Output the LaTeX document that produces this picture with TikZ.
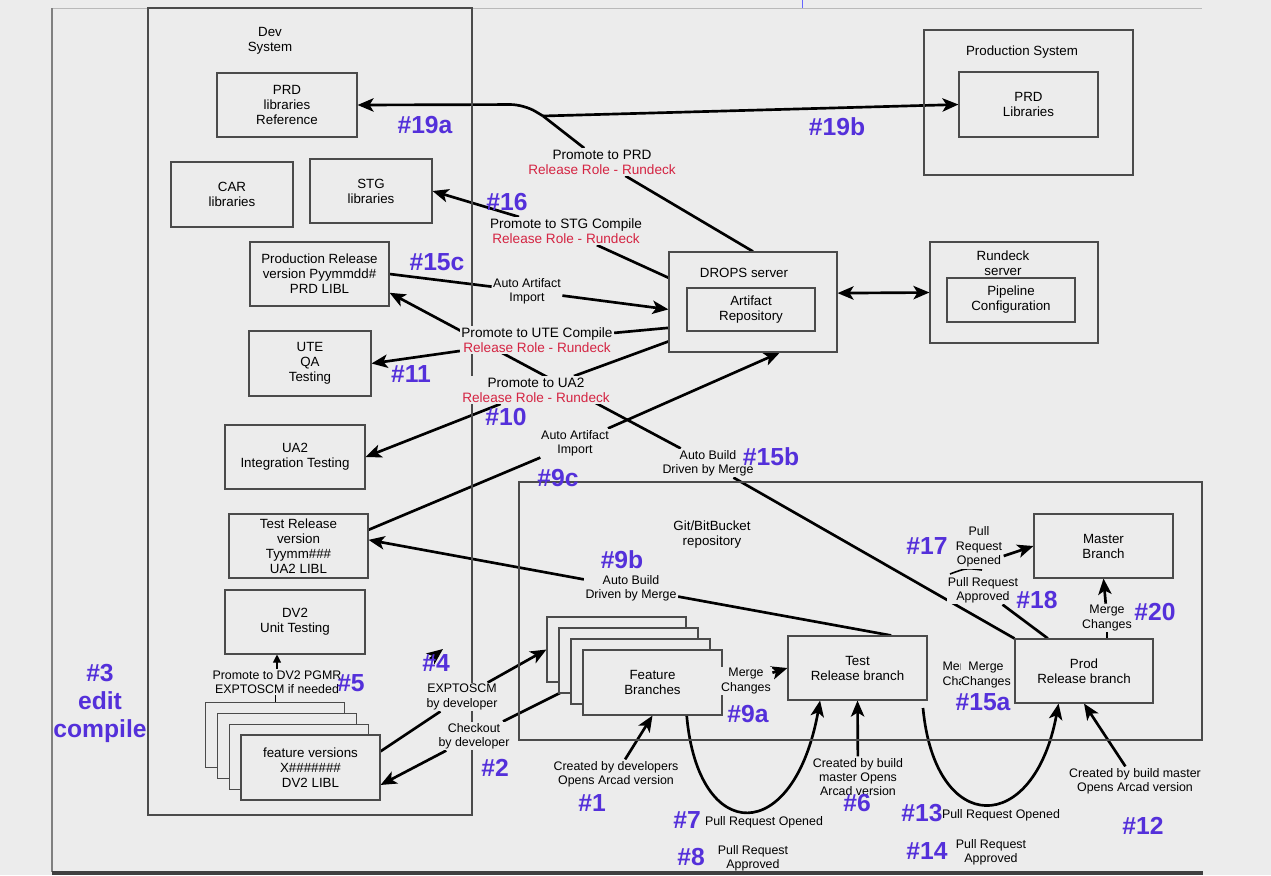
\documentclass[tikz,border=0pt]{standalone}
\usepackage{fontspec}
\setmainfont{Liberation Sans}
\usetikzlibrary{arrows.meta,backgrounds}

\definecolor{bgcol}{RGB}{236,236,236}
\definecolor{boxgray}{RGB}{75,75,75}
\definecolor{numpurple}{RGB}{84,48,218}
\definecolor{rundred}{RGB}{212,36,66}
\newcommand{\rolered}[1]{\textcolor{rundred}{#1}}

\tikzset{
  box/.style={draw=boxgray, line width=0.8pt, inner sep=0pt, align=center, font=\fontsize{10}{11.25}\selectfont},
  boxsize/.style 2 args={minimum width=#1*0.75pt, minimum height=#2*0.75pt},
  stackbox/.style={box, fill=bgcol},
  lbl/.style={fill=bgcol, inner sep=1pt, align=center, font=\fontsize{10.2}{11.25}\selectfont},
  sml/.style={lbl, font=\fontsize{9.3}{10.8}\selectfont},
  num/.style={text=numpurple, inner sep=0pt, align=center, font=\fontsize{18.5}{21}\selectfont\bfseries},
  link/.style={line width=2pt},
  arr/.style={link, -{Stealth[length=12pt,width=10pt,inset=3pt]}},
  dblarr/.style={link, {Stealth[length=12pt,width=10pt,inset=3pt]}-{Stealth[length=12pt,width=10pt,inset=3pt]}},
  tinyarr/.style={line width=0.8pt, -{Triangle[length=6pt,width=6pt]}},
}

\begin{document}
\begin{tikzpicture}[x=0.75pt,y=0.75pt,yscale=-1,xscale=1]
\begin{scope}[on background layer]
\fill[bgcol] (0,0) rectangle (1271,875);
\end{scope}
\useasboundingbox (0,0) rectangle (1271,875);

% frame of the page
\draw[gray!55, line width=0.6pt] (52,8) -- (1202,8);
\draw[gray, line width=0.8pt] (52,8) -- (52,872);
\draw[blue!60, line width=0.5pt] (802,0) -- (802,8);

%Shape: Dev System
\node[box, boxsize={324}{807}] (devsys) at (310,411.5) {};
\node[box, draw=none] (devlbl) at (270,41) {Dev\\System};
\node[box, boxsize={140}{64}] (prdref) at (287,105) {PRD\\libraries\\Reference};
\node[box, boxsize={122}{65}] (carlib) at (232,194.5) {CAR\\libraries};
\node[box, boxsize={122}{64}] (stglib) at (371,191) {STG\\libraries};
\node[box, boxsize={139}{64}] (prodrel) at (319.5,274) {Production Release\\version Pyymmdd\#\\PRD LIBL};
\node[box, boxsize={122}{65}] (ute) at (310,363.5) {UTE\\QA\\Testing};
\node[box, boxsize={140}{64}] (ua2) at (295,457) {UA2\\Integration Testing};
\node[box, boxsize={139}{64}] (testrel) at (298.5,546) {Test Release\\version\\Tyymm\#\#\#\\UA2 LIBL};
\node[box, boxsize={140}{64}] (dv2) at (295,622) {DV2\\Unit Testing};
\foreach \i in {3,2,1}
  \node[stackbox, boxsize={139}{65}] (featver\i) at ({310.5-11.7*\i},{767.5-10.7*\i}) {};
\node[stackbox, boxsize={139}{65}] (featver) at (310.5,767.5) {feature versions\\X\#\#\#\#\#\#\#\\DV2 LIBL};

%Shape: Git repository
\node[box, boxsize={683}{258}] (gitrepo) at (860.5,611) {};
\node[box, draw=none] (gitlbl) at (712,535) {Git/BitBucket\\repository};
\foreach \i in {3,2,1}
  \node[stackbox, boxsize={139}{65}] (featbr\i) at ({652.5-12*\i},{682.5-11*\i}) {};
\node[stackbox, boxsize={139}{65}] (featbr) at (652.5,682.5) {Feature\\Branches};
\node[box, boxsize={139}{64}] (testbr) at (857.5,668) {Test\\Release branch};
\node[box, boxsize={138}{64}] (prodbr) at (1084,671) {Prod\\Release branch};
\node[box, boxsize={139}{64}] (master) at (1103.5,546) {Master\\Branch};

%Shape: servers
\node[box, boxsize={168}{100}] (drops) at (753,302) {};
\node[box, draw=none] (dropslbl) at (744,273) {DROPS server};
\node[box, boxsize={128}{43}] (artrepo) at (751,309.5) {Artifact\\Repository};
\node[box, boxsize={168}{101}] (rundeck) at (1014,292.5) {};
\node[box, draw=none] (rundecklbl) at (1003,263) {Rundeck\\server};
\node[box, boxsize={128}{44}] (pipeline) at (1011,300) {Pipeline\\Configuration};
\node[box, boxsize={209}{145}] (prodsys) at (1028.5,102.5) {};
\node[box, draw=none] (prodsyslbl) at (1022,52) {Production System};
\node[box, boxsize={139}{65}] (prdlib) at (1028.5,104.5) {PRD\\Libraries};

% Text Node: connector labels
\node[lbl] (promprd) at (602,162) {Promote to PRD\\\rolered{Release Role - Rundeck}};
\node[lbl] (promstg) at (566,231) {Promote to STG Compile\\\rolered{Release Role - Rundeck}};
\node[sml] (autoimp1) at (527,291) {Auto Artifact\\Import};
\node[lbl] (promute) at (537,340) {Promote to UTE Compile\\\rolered{Release Role - Rundeck}};
\node[lbl] (promua2) at (536,390) {Promote to UA2\\\rolered{Release Role - Rundeck}};
\node[sml] (autoimp2) at (575,443) {Auto Artifact\\Import};
\node[sml] (autobuild15) at (708,463) {Auto Build\\Driven by Merge};
\node[sml] (autobuild9) at (631,588) {Auto Build\\Driven by Merge};
\node[sml] (promdv2) at (277,682) {Promote to DV2 PGMR\\EXPTOSCM if needed};
\node[sml] (exptoscm) at (462,697) {EXPTOSCM\\by developer};
\node[sml] (checkout) at (474,736) {Checkout\\by developer};
\node[sml] (merge9) at (746,681) {Merge\\Changes};
\node[sml, align=left, anchor=west] (merge15old) at (941,675) {Merge\\Changes};
\node[sml, inner sep=0.5pt] (merge15) at (986,675) {Merge\\Changes};
\node[sml] (merge20) at (1107,618) {Merge\\Changes};
\node[sml] (propen) at (979,547) {Pull\\Request\\Opened};
\node[sml] (prapp) at (983,590) {Pull Request\\Approved};
\node[sml] (cb1) at (616,774) {Created by developers\\Opens Arcad version};
\node[sml] (cb6) at (858,777) {Created by build\\master Opens\\Arcad version};
\node[sml] (cb12) at (1135,781) {Created by build master\\Opens Arcad version};
\node[sml] (propen7) at (764,822) {Pull Request Opened};
\node[sml] (prapp8) at (753,858) {Pull Request\\Approved};
\node[sml] (propen13) at (1001,815) {Pull Request Opened};
\node[sml] (prapp14) at (991,852) {Pull Request\\Approved};

% Text Node: step numbers
\node[num] (n19a) at (425,125) {\#19a};
\node[num] (n19b) at (837,127) {\#19b};
\node[num] (n16) at (507,202) {\#16};
\node[num] (n15c) at (437,262) {\#15c};
\node[num] (n11) at (411,374) {\#11};
\node[num] (n10) at (506,417) {\#10};
\node[num] (n15b) at (771,457) {\#15b};
\node[num] (n9c) at (558,478) {\#9c};
\node[num] (n9b) at (622,560) {\#9b};
\node[num] (n17) at (927,546) {\#17};
\node[num] (n18) at (1037,600) {\#18};
\node[num] (n20) at (1155,612) {\#20};
\node[num] (n5) at (351,683) {\#5};
\node[num] (n4) at (436,663) {\#4};
\node[num] (n3) at (100,703) {\#3\\edit\\compile};
\node[num] (n9a) at (748,714) {\#9a};
\node[num] (n15a) at (983,702) {\#15a};
\node[num] (n2) at (495,768) {\#2};
\node[num] (n1) at (592,803) {\#1};
\node[num] (n6) at (857,803) {\#6};
\node[num] (n12) at (1143,826) {\#12};
\node[num] (n7) at (687,820) {\#7};
\node[num] (n13) at (922,813) {\#13};
\node[num] (n8) at (691,857) {\#8};
\node[num] (n14) at (927,851) {\#14};

% bottom edge of the page
\fill[black!75] (52,871) rectangle (1203,875);

\coordinate (split) at (543,116);
\coordinate (sq1) at (950,574);
\coordinate (sq2) at (982,570);
\coordinate (c13) at (923,708);
\coordinate (a4tail) at (430,659);
\coordinate (a4tip) at (443,649);

%Straight Lines: connectors
\begin{scope}[on background layer]
\draw[link] (drops.north) -- (promprd) -- (split);
\draw[arr, rounded corners=10] (split) -- (524,104.5) -- (prdref.east);
\draw[arr] (split) -- (prdlib.west);
\draw[arr] (drops.164) -- (promstg) -- (stglib.east);
\draw[arr] (prodrel.east) -- (autoimp1) -- (drops.185);
\draw[arr] (drops.197) -- (promute) -- (ute.east);
\draw[arr] (prodbr.north west) -- (autobuild15) -- (prodrel.-15);
\draw[arr] (drops.205) -- (promua2) -- (ua2.east);
\draw[arr] (testrel.13) -- (autoimp2) -- (drops.298);
\draw[arr] (testbr.44) -- (autobuild9) -- (testrel.5);
\draw[dblarr] (drops.6) -- (rundeck.west);
\draw[line width=0.8pt] (featver3.north) -- (featver3.north |- promdv2.south);
\draw[tinyarr] (promdv2.north) -- (promdv2.north |- dv2.south);
\draw[arr] (featver.13) -- (exptoscm) -- (featbr3.west);
\draw[arr] (featbr1.193) -- (checkout) -- (featver.-14);
\draw[arr] (a4tail) -- (a4tip);
\draw[arr] (merge9) -- (testbr.west);
\draw[link] (prodbr.138) -- (prapp);
\draw[line width=1.2pt] (sq1) .. controls (966,568) .. (sq2);
\draw[arr] (propen.-20) -- (master.west);
\draw[arr] (merge20) -- (master.south);
\draw[line width=1.2pt] (merge20.south) -- (merge20.south |- prodbr.north);
\draw[arr] (featbr.-44) .. controls (698,846) and (794,846) .. (testbr.221);
\draw[arr] (c13) .. controls (935,837) and (1034,837) .. (prodbr.232);
\draw[arr] (cb1) -- (featbr.south);
\draw[arr] (cb6) -- (testbr.south);
\draw[arr] (cb12) -- (prodbr.south);
\end{scope}

\end{tikzpicture}
\end{document}
